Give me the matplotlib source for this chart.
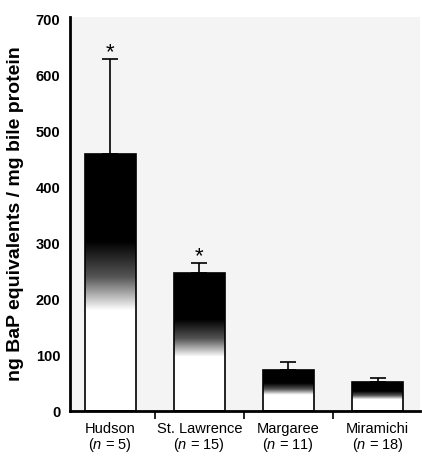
import numpy as np
import matplotlib
matplotlib.use("Agg")
from matplotlib import pyplot as plt
from matplotlib.colors import LinearSegmentedColormap

sites = ["Hudson", "St. Lawrence", "Margaree", "Miramichi"]
n_fish = [5, 15, 11, 18]
means = [460, 248, 74, 53]
errors = [170, 17, 14, 7]
significant = [True, True, False, False]

plt.rcParams['font.family'] = ['Liberation Sans', 'DejaVu Sans']
plt.rcParams['mathtext.fontset'] = 'custom'
plt.rcParams['mathtext.it'] = 'Liberation Sans:italic'
plt.rcParams['mathtext.rm'] = 'Liberation Sans'

fig = plt.figure(figsize=(4.22, 4.57), dpi=100)
ax = fig.add_axes([0.166, 0.1, 0.83, 0.863])
ax.set_facecolor('#f4f4f4')

x = np.arange(len(sites))
width = 0.57
bars = ax.bar(x, means, width, color='none', edgecolor='black', linewidth=1.2, zorder=3)

# black top fading to white bottom, relative to each bar's height
cmap = LinearSegmentedColormap.from_list(
    'fade', [(0, 'white'), (0.39, 'white'), (0.52, '#555555'), (0.66, 'black'), (1, 'black')])
grad = np.linspace(0, 1, 256).reshape(-1, 1)
for b in bars:
    x0, h = b.get_x(), b.get_height()
    im = ax.imshow(grad, cmap=cmap, origin='lower', aspect='auto',
                   extent=[x0, x0 + width, 0, h], zorder=2)
    im.set_clip_path(b)

ax.errorbar(x, means, yerr=[np.zeros(len(errors)), errors], fmt='none',
            ecolor='black', elinewidth=1.2, capsize=6, capthick=1.2, zorder=4)
for xi, m, e, s in zip(x, means, errors, significant):
    if s:
        ax.text(xi, m + e - 8, '*', ha='center', va='bottom', fontsize=16)

ax.set_xlim(-0.45, 3.48)
ax.set_ylim(0, 705)
ax.set_yticks(range(0, 701, 100))
ax.tick_params(axis='y', length=0, pad=7, labelsize=10.5)
for lab in ax.get_yticklabels():
    lab.set_fontweight('bold')

ax.set_xticks(x)
ax.set_xticklabels([f"{s}\n($\\it{{n}}$ = {n})" for s, n in zip(sites, n_fish)],
                   fontsize=10.5, linespacing=1.0)
ax.tick_params(axis='x', length=0, pad=8)
ax.set_xticks(x[:-1] + 0.5, minor=True)
ax.tick_params(axis='x', which='minor', length=6, width=1.2, direction='out')

ax.set_ylabel('ng BaP equivalents / mg bile protein', fontsize=14, fontweight='bold', labelpad=8)

for side in ['top', 'right']:
    ax.spines[side].set_visible(False)
ax.spines['left'].set_linewidth(2)
ax.spines['bottom'].set_linewidth(2)

fig.savefig('out.png', dpi=100)
